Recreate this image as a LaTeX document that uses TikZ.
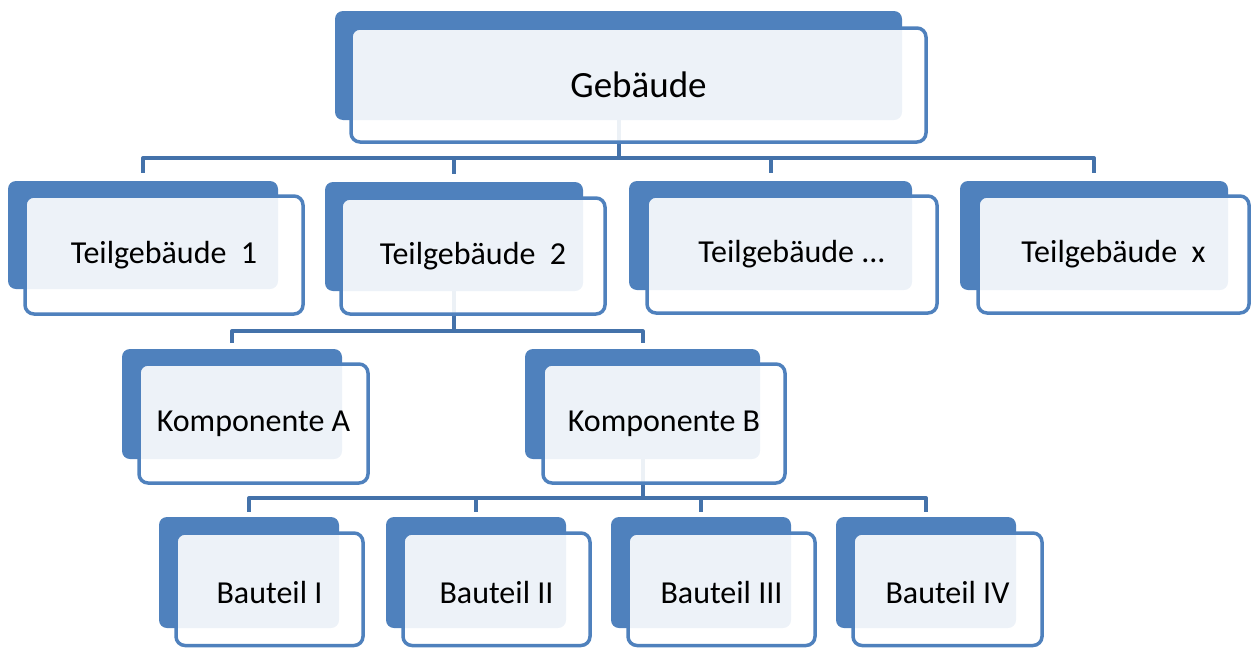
\documentclass[tikz,border=0pt]{standalone}
\usepackage{fontspec}
\setmainfont{Carlito}
\usetikzlibrary{fit,backgrounds}
\definecolor{boxblue}{RGB}{79,129,189}
\definecolor{linkblue}{RGB}{68,114,170}
\tikzset{
  backbox/.style={fit={#1}, inner sep=0pt, fill=boxblue, draw=none, rounded corners=8pt},
  frontbox/.style={fit={#1}, inner sep=0pt, draw=boxblue, line width=3.5pt,
    fill=white, fill opacity=0.9, draw opacity=1, rounded corners=9pt},
  boxtext/.style={inner sep=0pt, font=\fontsize{32}{38}\selectfont, text=black},
  link/.style={draw=linkblue, line width=4pt, line join=round}
}
\begin{document}
\begin{tikzpicture}[x=1pt,y=-1pt]
  \useasboundingbox (0,0) rectangle (1252,648);
  % top level
  \node[backbox={(335,11) (902,120)}] (g) {};
  \node[frontbox={(351,28) (926,142)}] (gf) {};
  \node[boxtext, font=\fontsize{37}{44}\selectfont] (gt) at (gf.center) {Gebäude};
  % second level
  \node[backbox={(8,181) (278,289)}] (t1) {};
  \node[frontbox={(25,196) (303,314)}] (t1f) {};
  \node[boxtext] (t1t) at (t1f.center) {Teilgebäude\ \ 1};
  \node[backbox={(325,182) (583,291)}] (t2) {};
  \node[frontbox={(341,198) (605,314)}] (t2f) {};
  \node[boxtext] (t2t) at (t2f.center) {Teilgebäude\ \ 2};
  \node[backbox={(629,181) (912,290)}] (t3) {};
  \node[frontbox={(647,196) (937,313)}] (t3f) {};
  \node[boxtext] (t3t) at (t3f.center) {Teilgebäude ...};
  \node[backbox={(960,181) (1228,290)}] (t4) {};
  \node[frontbox={(978,196) (1249,313)}] (t4f) {};
  \node[boxtext] (t4t) at (t4f.center) {Teilgebäude\ \ x};
  % components
  \node[backbox={(122,349) (342,459)}] (ka) {};
  \node[frontbox={(139,364) (368,483)}] (kaf) {};
  \node[boxtext] (kat) at (kaf.center) {Komponente A};
  \node[backbox={(525,349) (760,459)}] (kb) {};
  \node[frontbox={(543,364) (785,483)}] (kbf) {};
  \node[boxtext] (kbt) at (kbf.center) {Komponente B};
  % parts
  \node[backbox={(159,517) (339,628)}] (b1) {};
  \node[frontbox={(176,533) (363,645.5)}] (b1f) {};
  \node[boxtext] (b1t) at ([yshift=-3pt]b1f.center) {Bauteil I};
  \node[backbox={(386,517) (566,628)}] (b2) {};
  \node[frontbox={(403,533) (590,645.5)}] (b2f) {};
  \node[boxtext] (b2t) at ([yshift=-3pt]b2f.center) {Bauteil II};
  \node[backbox={(611,517) (791,628)}] (b3) {};
  \node[frontbox={(628,533) (815,645.5)}] (b3f) {};
  \node[boxtext] (b3t) at ([yshift=-3pt]b3f.center) {Bauteil III};
  \node[backbox={(836,517) (1016,628)}] (b4) {};
  \node[frontbox={(853,533) (1042,645.5)}] (b4f) {};
  \node[boxtext] (b4t) at ([yshift=-3pt]b4f.center) {Bauteil IV};
  % connectors behind the boxes
  \begin{pgfonlayer}{background}
    \foreach \c in {t1,t2,t3,t4}
      \draw[link, shorten >=8pt] (g.south) -- ++(0,38) -| (\c.north);
    \foreach \c in {ka,kb}
      \draw[link, shorten >=6pt] (t2.south) -- ++(0,40) -| (\c.north);
    \foreach \c in {b1,b2,b3,b4}
      \draw[link, shorten >=5pt] (kb.south) -- ++(0,39) -| (\c.north);
  \end{pgfonlayer}
\end{tikzpicture}
\end{document}
